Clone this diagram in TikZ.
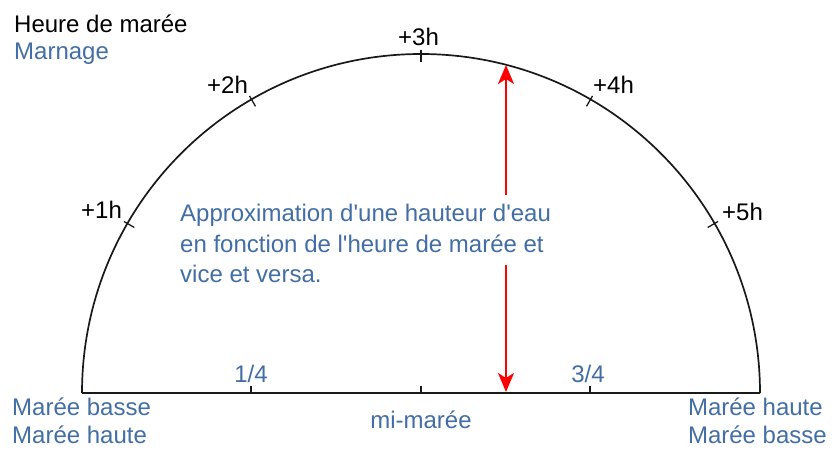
\documentclass[tikz,border=0pt]{standalone}
\usepackage{fontspec}
\setmainfont{Liberation Sans}
\usetikzlibrary{arrows.meta,calc}
\definecolor{tblue}{RGB}{66,110,165}
\definecolor{tred}{RGB}{255,0,0}
\begin{document}
\begin{tikzpicture}[x=1pt,y=-1pt,
  lbl/.style={inner sep=0pt,anchor=base west,font=\fontsize{24}{27}\selectfont},
  blbl/.style={lbl,text=tblue},
  hourlbl/.style={lbl,text=black},
  midline/.style={blbl,fill=white,inner xsep=0pt,inner ysep=7pt,text height=19pt,text depth=6pt},
  curve/.style={line width=1.7pt,black!90},
  tickmark/.style={line width=1.3pt,black!90},
  redarrow/.style={line width=1.8pt,tred,{Stealth[length=19pt,width=16pt,inset=5pt]}-{Stealth[length=19pt,width=16pt,inset=5pt]}}]
\useasboundingbox (0,0) rectangle (833,450);
% geometry
\coordinate (O) at (421,393);
\coordinate (L) at (82,393);
\coordinate (R) at (760,393);
\coordinate (arrtop) at (506,65);
\coordinate (arrbot) at (506,392);
% arc and baseline
\draw[curve] (L) arc[start angle=180,end angle=360,radius=339];
\draw[curve] (L) -- (R);
% hour ticks on the arc
\foreach \k in {1,...,5}{
  \pgfmathsetmacro{\ang}{180+30*\k}
  \draw[tickmark] ($(O)+(\ang:331)$) -- ($(O)+(\ang:343)$);
}
% ticks on the baseline
\foreach \xx/\nm in {251/q1,421/q2,590/q3}{
  \coordinate (\nm) at (\xx,393);
  \draw[tickmark] (\nm) -- ++(0,-7);
}
% red arrow
\draw[redarrow] (arrtop) -- (arrbot);
% texts
\node[lbl] (heure) at (14,32) {Heure de marée};
\node[blbl] (marnage) at (14,59) {Marnage};
\node[hourlbl] (h1) at (81,218) {+1h};
\node[hourlbl] (h2) at (207,93) {+2h};
\node[hourlbl] (h3) at (398,45) {+3h};
\node[hourlbl] (h4) at (593,93) {+4h};
\node[hourlbl] (h5) at (722,220) {+5h};
\node[midline] (t1) at (180,221) {Approximation d\textquotesingle une hauteur d\textquotesingle eau};
\node[midline] (t2) at (180,252) {en fonction de l\textquotesingle heure de marée et};
\node[blbl] (t3) at (180,282) {vice et versa.};
\node[blbl,anchor=base] (f1) at (251,382) {1/4};
\node[blbl,anchor=base] (f3) at (588,382) {3/4};
\node[blbl,anchor=base] (mi) at (421,428) {mi-marée};
\node[blbl] (bl1) at (12,415) {Marée basse};
\node[blbl] (bl2) at (12,443) {Marée haute};
\node[blbl,anchor=base east] (br1) at (823,415) {Marée haute};
\node[blbl,anchor=base east] (br2) at (827,443) {Marée basse};
\end{tikzpicture}
\end{document}
